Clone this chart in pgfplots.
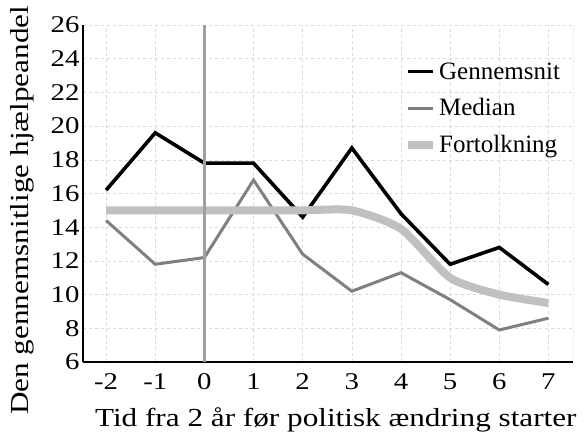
\documentclass[border=0pt]{standalone}
\usepackage{fontspec}
\setmainfont{Liberation Serif}
\newfontfamily\widefont[FakeStretch=1.2]{Liberation Serif}
\usepackage{pgfplots}
\pgfplotsset{compat=1.18}
\definecolor{meancol}{HTML}{000000}
\definecolor{mediancol}{HTML}{808080}
\definecolor{fitcol}{HTML}{C0C0C0}
\definecolor{gridcol}{HTML}{D9D9D9}

\begin{document}
\begin{tikzpicture}
\useasboundingbox (-83pt,-80pt) rectangle (502pt,362pt);
\begin{axis}[
    at={(0pt,0pt)}, anchor=south west,
    scale only axis,
    width=490pt, height=337pt,
    xmin=-2.47, xmax=7.5,
    ymin=6, ymax=26,
    xtick={-2,...,7},
    xticklabels={-2,-1,0,1,2,3,4,5,6,7},
    ytick={6,8,...,26},
    major tick length=0pt,
    axis x line*=bottom, axis y line*=left,
    axis line style={black, line width=1.2pt, -},
    grid=major,
    grid style={gridcol, dashed, line width=0.6pt},
    tick label style={font=\widefont\fontsize{24}{28}\selectfont},
    xticklabel style={yshift=-8pt},
    /pgf/number format/assume math mode=true,
    xlabel={Tid fra 2 år før politisk ændring starter},
    ylabel={Den gennemsnitlige hjælpeandel},
    label style={font=\widefont\fontsize{26}{30}\selectfont},
    xlabel style={at={(axis description cs:0.516,0)}, anchor=center, yshift=-58pt},
    ylabel style={at={(axis description cs:0,0.45)}, anchor=center, yshift=61pt},
    legend style={at={(0.655,0.895)}, anchor=north west, draw=none, fill=none,
        font=\rmfamily\fontsize{25}{28}\selectfont, row sep=14pt,
        inner sep=0pt, cells={anchor=west}},
    legend image code/.code={\draw[#1] (0pt,0pt) -- (25pt,0pt);},
    legend cell align=left,
]
\addplot[meancol, line width=3.6pt] coordinates {
  (-2,16.2) (-1,19.6) (0,17.8) (1,17.8) (2,14.6) (3,18.7) (4,14.8) (5,11.8) (6,12.8) (7,10.6)};
\addlegendentry{Gennemsnit}
\addplot[mediancol, line width=3pt] coordinates {
  (-2,14.4) (-1,11.8) (0,12.2) (1,16.8) (2,12.4) (3,10.2) (4,11.3) (5,9.7) (6,7.9) (7,8.6)};
\addlegendentry{Median}
\addplot[fitcol, line width=8pt, smooth, tension=0.4] coordinates {
  (-2,15) (-1,15) (0,15) (1,15) (2,15) (3,15) (4,13.9) (5,11) (6,10) (7,9.5)};
\addlegendentry{Fortolkning}
\draw[mediancol!75, line width=2.4pt] (axis cs:0,6) -- (axis cs:0,26);
\draw[mediancol!70, line width=1pt] (rel axis cs:1,0) -- (rel axis cs:1,1);
\end{axis}
\end{tikzpicture}
\end{document}
